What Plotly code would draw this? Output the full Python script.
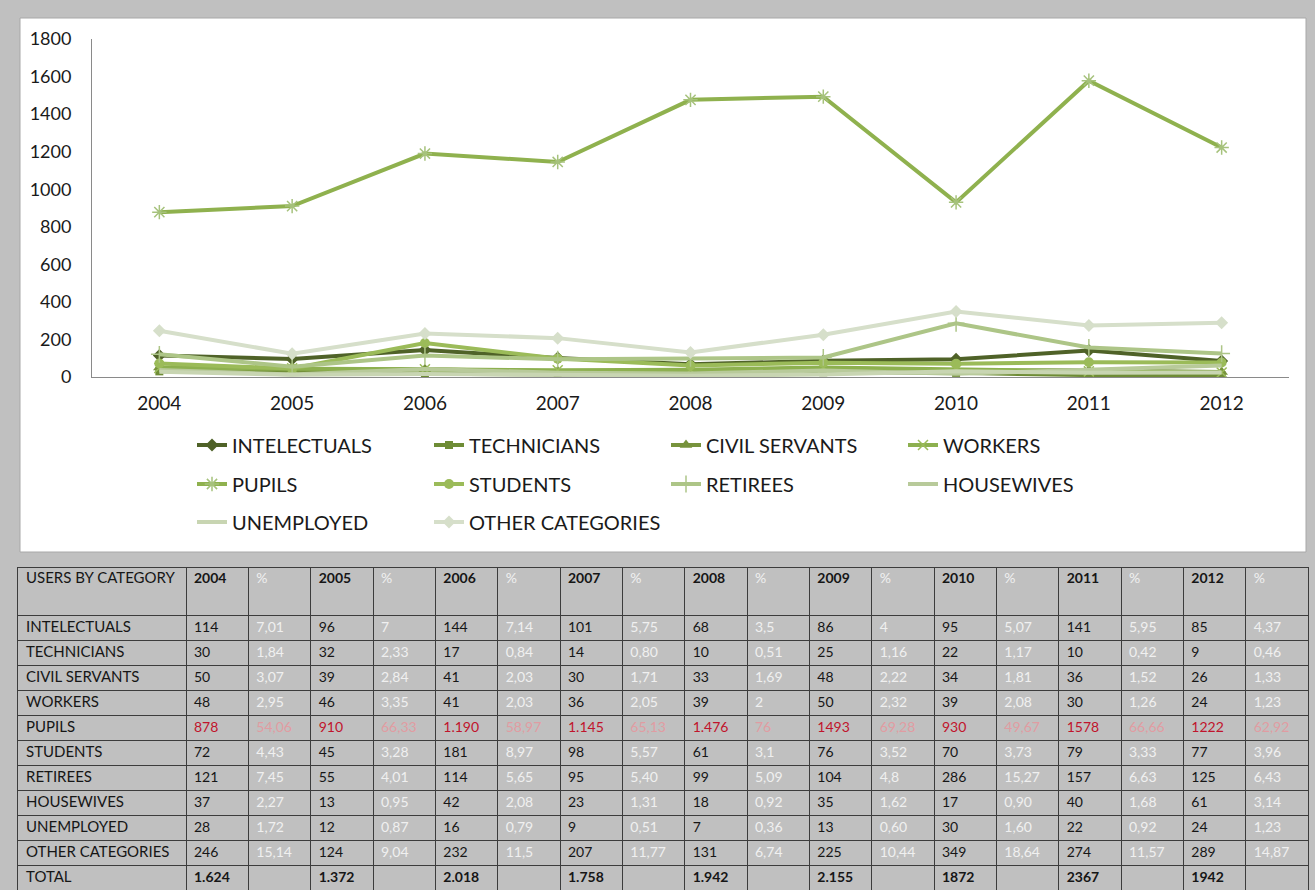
import plotly.graph_objects as go

# ---------------- data ----------------
years = ["2004", "2005", "2006", "2007", "2008", "2009", "2010", "2011", "2012"]
categories = ["INTELECTUALS", "TECHNICIANS", "CIVIL SERVANTS", "WORKERS", "PUPILS",
              "STUDENTS", "RETIREES", "HOUSEWIVES", "UNEMPLOYED", "OTHER CATEGORIES"]

intelectuals = [114, 96, 144, 101, 68, 86, 95, 141, 85]
technicians = [30, 32, 17, 14, 10, 25, 22, 10, 9]
civil_servants = [50, 39, 41, 30, 33, 48, 34, 36, 26]
workers = [48, 46, 41, 36, 39, 50, 39, 30, 24]
pupils = [878, 910, 1190, 1145, 1476, 1493, 930, 1578, 1222]
students = [72, 45, 181, 98, 61, 76, 70, 79, 77]
retirees = [121, 55, 114, 95, 99, 104, 286, 157, 125]
housewives = [37, 13, 42, 23, 18, 35, 17, 40, 61]
unemployed = [28, 12, 16, 9, 7, 13, 30, 22, 24]
other_categories = [246, 124, 232, 207, 131, 225, 349, 274, 289]

pct_intelectuals = ["7,01", "7", "7,14", "5,75", "3,5", "4", "5,07", "5,95", "4,37"]
pct_technicians = ["1,84", "2,33", "0,84", "0,80", "0,51", "1,16", "1,17", "0,42", "0,46"]
pct_civil_servants = ["3,07", "2,84", "2,03", "1,71", "1,69", "2,22", "1,81", "1,52", "1,33"]
pct_workers = ["2,95", "3,35", "2,03", "2,05", "2", "2,32", "2,08", "1,26", "1,23"]
pct_pupils = ["54,06", "66,33", "58,97", "65,13", "76", "69,28", "49,67", "66,66", "62,92"]
pct_students = ["4,43", "3,28", "8,97", "5,57", "3,1", "3,52", "3,73", "3,33", "3,96"]
pct_retirees = ["7,45", "4,01", "5,65", "5,40", "5,09", "4,8", "15,27", "6,63", "6,43"]
pct_housewives = ["2,27", "0,95", "2,08", "1,31", "0,92", "1,62", "0,90", "1,68", "3,14"]
pct_unemployed = ["1,72", "0,87", "0,79", "0,51", "0,36", "0,60", "1,60", "0,92", "1,23"]
pct_other = ["15,14", "9,04", "11,5", "11,77", "6,74", "10,44", "18,64", "11,57", "14,87"]

pupils_labels = ["878", "910", "1.190", "1.145", "1.476", "1493", "930", "1578", "1222"]
total_labels = ["1.624", "1.372", "2.018", "1.758", "1.942", "2.155", "1872", "2367", "1942"]

series = [intelectuals, technicians, civil_servants, workers, pupils,
          students, retirees, housewives, unemployed, other_categories]
pcts = [pct_intelectuals, pct_technicians, pct_civil_servants, pct_workers, pct_pupils,
        pct_students, pct_retirees, pct_housewives, pct_unemployed, pct_other]

# ---------------- styles ----------------
W, H = 1315, 890
FONT = "Lato"
line_colors = ["#4F6228", "#6E8C35", "#77933C", "#8DB04F", "#8FB14E",
               "#9BBB59", "#ADC587", "#B8CA9A", "#C8D5B2", "#D6DFCA"]
markers = [
    dict(symbol="diamond", size=10, color="#4F6228"),
    dict(symbol="square", size=8, color="#6E8C35"),
    dict(symbol="triangle-up", size=11, color="#77933C"),
    dict(symbol="x-thin-open", size=10, color="#9BBB59", line=dict(width=1.5, color="#9BBB59")),
    dict(symbol="asterisk-open", size=12, color="#A6C27C", line=dict(width=1.5, color="#A6C27C")),
    dict(symbol="circle", size=10, color="#9BBB59"),
    dict(symbol="cross-thin-open", size=12, color="#ADC587", line=dict(width=1.5, color="#ADC587")),
    None,
    None,
    dict(symbol="diamond", size=10, color="#D6DFCA"),
]
legend_of = ["legend"] * 4 + ["legend2"] * 4 + ["legend3"] * 2

fig = go.Figure()

for name, vals, col, mk, lg in zip(categories, series, line_colors, markers, legend_of):
    fig.add_trace(go.Scatter(
        x=years, y=vals, name=name,
        mode="lines+markers" if mk else "lines",
        line=dict(color=col, width=4),
        marker=mk if mk else None,
        legend=lg, xaxis="x", yaxis="y",
        hoverinfo="x+y+name",
    ))

# ---------------- table (drawn on its own axes) ----------------
first_col_w = 168
col_w = (1290 - first_col_w) / 18
col_edges = [0, first_col_w] + [first_col_w + col_w * k for k in range(1, 19)]
header_h = 47
row_h = 25
row_edges = [0, header_h] + [header_h + row_h * k for k in range(1, 12)]
table_w = col_edges[-1]
table_h = row_edges[-1]

BLACK = "#161616"
PALE = "#F0F0F0"
RED = "#C0142C"
PINK = "#E09CA2"

label_cells = dict(x=[], y=[], text=[], color=[])
value_cells = dict(x=[], y=[], text=[], color=[])

def add_cell(store, c, r, text, color, header=False):
    store["x"].append(col_edges[c] + 8)
    if header:
        store["y"].append(row_edges[r] + 11)
    else:
        store["y"].append((row_edges[r] + row_edges[r + 1]) / 2 + 1)
    store["text"].append(text)
    store["color"].append(color)

add_cell(label_cells, 0, 0, "USERS BY CATEGORY", BLACK, header=True)
for j, yr in enumerate(years):
    add_cell(value_cells, 1 + 2 * j, 0, "<b>" + yr + "</b>", BLACK, header=True)
    add_cell(value_cells, 2 + 2 * j, 0, "%", PALE, header=True)

for i, (name, vals, pc) in enumerate(zip(categories, series, pcts)):
    r = i + 1
    add_cell(label_cells, 0, r, name, BLACK)
    is_pupils = name == "PUPILS"
    for j in range(len(years)):
        label = pupils_labels[j] if is_pupils else str(vals[j])
        add_cell(value_cells, 1 + 2 * j, r, label, RED if is_pupils else BLACK)
        add_cell(value_cells, 2 + 2 * j, r, pc[j], PINK if is_pupils else PALE)

add_cell(label_cells, 0, 11, "TOTAL", BLACK)
for j in range(len(years)):
    add_cell(value_cells, 1 + 2 * j, 11, "<b>" + total_labels[j] + "</b>", BLACK)

for store, size in ((label_cells, 15), (value_cells, 14)):
    fig.add_trace(go.Scatter(
        x=store["x"], y=store["y"], text=store["text"], mode="text",
        textposition="middle right",
        textfont=dict(family=FONT, size=size, color=store["color"]),
        xaxis="x2", yaxis="y2", showlegend=False, hoverinfo="skip",
    ))

# ---------------- layout ----------------
plot_x0, plot_x1 = 92, 1289
plot_top, plot_bot = 39, 377
tbl_x0, tbl_top = 18, 568

fig.update_layout(
    width=W, height=H, autosize=False,
    margin=dict(l=0, r=0, t=0, b=0, autoexpand=False),
    paper_bgcolor="#C0C0C0",
    plot_bgcolor="rgba(0,0,0,0)",
    font=dict(family=FONT, color="#1A1A1A"),
    xaxis=dict(
        domain=[plot_x0 / W, plot_x1 / W], type="category", anchor="y",
        showline=True, linecolor="#8A8A8A", linewidth=1, showgrid=False, zeroline=False,
        ticks="outside", ticklen=9, tickcolor="rgba(0,0,0,0)",
        tickfont=dict(family=FONT, size=19, color="#1A1A1A"),
    ),
    yaxis=dict(
        domain=[1 - plot_bot / H, 1 - plot_top / H], range=[0, 1800], dtick=200, anchor="x",
        showline=True, linecolor="#8A8A8A", linewidth=1, showgrid=False, zeroline=False,
        ticks="outside", ticklen=16, tickcolor="rgba(0,0,0,0)",
        tickfont=dict(family=FONT, size=18, color="#1A1A1A"),
    ),
    xaxis2=dict(
        domain=[tbl_x0 / W, (tbl_x0 + table_w) / W], range=[0, table_w], anchor="y2",
        tickvals=col_edges, showticklabels=False, showgrid=True, gridcolor="#3C3C3C",
        gridwidth=1, zeroline=False, showline=True, mirror=True, linecolor="#3C3C3C",
        fixedrange=True,
    ),
    yaxis2=dict(
        domain=[1 - (tbl_top + table_h) / H, 1 - tbl_top / H], range=[table_h, 0], anchor="x2",
        tickvals=row_edges, showticklabels=False, showgrid=True, gridcolor="#3C3C3C",
        gridwidth=1, zeroline=False, showline=True, mirror=True, linecolor="#3C3C3C",
        fixedrange=True,
    ),
    shapes=[dict(
        type="rect", xref="paper", yref="paper",
        x0=20 / W, x1=1306 / W, y0=1 - 552 / H, y1=1 - 18 / H,
        fillcolor="white", line=dict(color="#A8A8A8", width=1), layer="below",
    )],
)

legend_common = dict(
    orientation="h", xanchor="left", yanchor="middle",
    entrywidth=192, entrywidthmode="pixels",
    bgcolor="rgba(0,0,0,0)", font=dict(family=FONT, size=20, color="#1A1A1A"),
    traceorder="normal",
)
fig.update_layout(
    legend=dict(x=192 / W, y=1 - 445 / H, **legend_common),
    legend2=dict(x=192 / W, y=1 - 484 / H, **legend_common),
    legend3=dict(x=192 / W, y=1 - 522 / H, **legend_common),
)

fig.write_html(
    "out.html",
    config={"displayModeBar": False},
    post_script="document.body.style.margin='0px';document.body.style.overflow='hidden';",
)
